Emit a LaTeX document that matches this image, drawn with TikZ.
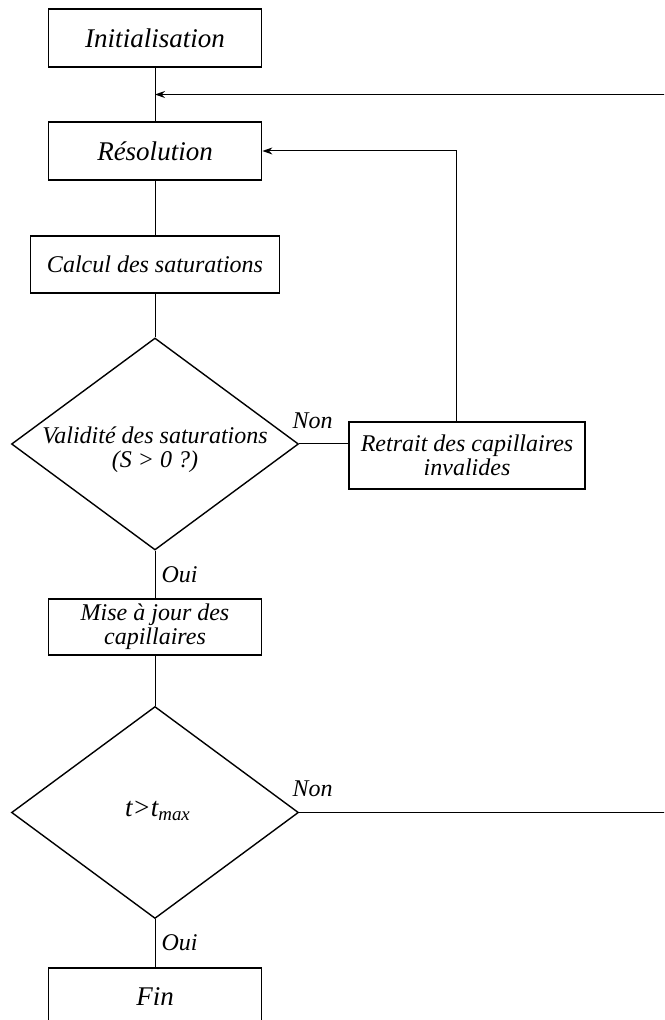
\documentclass[tikz,border=0pt]{standalone}
\usepackage{fontspec}
\setmainfont{Liberation Serif}
\usepackage{tikz}
\usetikzlibrary{arrows.meta, calc, shapes.geometric}

\begin{document}
\begin{tikzpicture}[
    x=0.5pt, y=-0.5pt,
    box/.style={draw, line width=0.9pt, align=center, inner sep=2pt,
                minimum width=106.5pt, minimum height=29pt},
    bigtxt/.style={font=\fontsize{13.5}{15}\selectfont\itshape},
    smalltxt/.style={font=\fontsize{12}{10.5}\selectfont\itshape},
    choix/.style={draw, shape=diamond, line width=0.7pt, inner sep=0pt,
                  minimum width=143.5pt, minimum height=106pt},
    lbl/.style={font=\fontsize{12}{13}\selectfont\itshape, inner sep=1pt},
    link/.style={line width=0.5pt},
    back/.style={link, -{Stealth[length=5pt, width=3.5pt]}}
]
\useasboundingbox (0,0) rectangle (664,1020);
\clip (0,0) rectangle (664,1020);

% main column
\node[box, bigtxt] (init) at (155,38) {Initialisation};
\node[box, bigtxt] (res) at (155,151) {Résolution};
\node[box, smalltxt, minimum width=124.5pt, minimum height=28.5pt] (calc) at (155,264.5) {Calcul des saturations};
\node[choix] (valid) at (155,444) {};
\node[font=\fontsize{12}{12}\selectfont\itshape, align=center] (validtxt) at (155,450) {Validité des saturations\\(S > 0 ?)};
\node[box, smalltxt, minimum height=28pt] (maj) at (155,627) {Mise à jour des\\capillaires};
\node[choix] (temps) at (155,812.5) {};
\node[bigtxt] (tempstxt) at (158,811) {t>t\textsubscript{max}};
\node[box, bigtxt] (fin) at (155,997) {Fin};

% side branch
\node[box, smalltxt, minimum width=118pt, minimum height=33.5pt] (retrait) at (467,455.5) {Retrait des capillaires\\invalides};
\coordinate (retour) at (456,0);
\coordinate (bord) at (700,0);

% links
\draw[link] (init) -- (res);
\draw[link] (res) -- (calc);
\draw[link] (calc) -- (valid);
\draw[link] (valid.south) -- (maj.north) node[lbl, pos=0.5, anchor=west, xshift=2pt] (oui1) {Oui};
\draw[link] (maj) -- (temps);
\draw[link] (temps.south) -- (fin.north) node[lbl, pos=0.5, anchor=west, xshift=2pt] (oui2) {Oui};

\draw[link] (valid.east) -- (valid.east -| retrait.west);
\node[lbl, anchor=south west] (non1) at ($(valid.east)+(-9,-13)$) {Non};
\draw[back] (retrait.north -| retour) |- (res.east);

\draw[back] (temps.east) -- (temps.east -| bord) |- ($(init.south)!0.5!(res.north)$);
\node[lbl, anchor=south west] (non2) at ($(temps.east)+(-9,-13)$) {Non};

\end{tikzpicture}
\end{document}
